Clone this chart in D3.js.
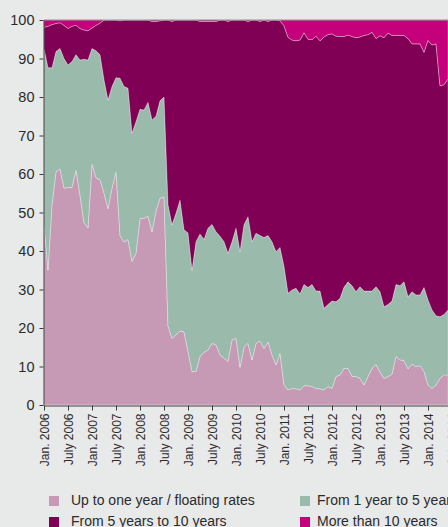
<!DOCTYPE html>
<html lang="en">
<head>
    <title>Interest rate fixation shares</title>
    <meta charset="utf-8">
    <style>
        body { margin: 0; background: #e8e9e9; overflow: hidden; }
        svg { display: block; background: #e8e9e9; }
        .axis text { font-family: "Liberation Sans", Arial, sans-serif; fill: #2b2b2b; }
        .axis path, .axis line { stroke: #3a3a3a; }
        .legend text { font-family: "Liberation Sans", Arial, sans-serif; font-size: 14px; fill: #2b2b2b; }
    </style>
    <script src="https://d3js.org/d3.v7.min.js"></script>
</head>
<body>
<svg id="chart" width="448" height="527"></svg>
<script>
    // monthly shares (%), Jan. 2006 .. June 2014
    const upToOneYear = [47, 35, 52, 60.6, 61.3, 56.3, 56.5, 56.5, 61, 54.5, 47.3, 46,
        62.5, 59, 58.5, 55, 51, 56.3, 60.5, 44, 42.3, 43, 37.3, 39.4,
        48.4, 48.5, 49, 45, 50.4, 53.7, 54, 20.5, 17.3, 18.2, 19.2, 19,
        13.9, 8.7, 8.7, 12.6, 13.7, 14.3, 16, 15.6, 13, 12.2, 11.3, 16.9,
        17.3, 9.8, 15, 16, 11.7, 16, 16.6, 14.7, 16.4, 13, 10.4, 13.4,
        5.2, 3.9, 4.3, 4.2, 3.9, 5, 5, 4.8, 4.3, 4.2, 3.9, 4.8,
        4.3, 7.4, 7.8, 9.5, 9.5, 7.4, 7.4, 6.9, 5.2, 7.4, 9.5, 10.5,
        8.5, 6.9, 7.4, 8, 12.6, 11.7, 11.5, 9.4, 10.6, 10, 10.2, 8.7,
        5.2, 4.3, 5.2, 6.9, 7.8, 7.8];
    const oneToFiveYears = [45.6, 52.6, 35.6, 31.2, 31.3, 33.7, 31.8, 32.7, 30, 35.1, 42.5, 43.6,
        30.1, 33, 32.5, 29.4, 28.2, 26.4, 24.5, 40.9, 40.4, 39.3, 33.3, 34.2,
        28.4, 28.1, 29.6, 29, 24.6, 25.3, 26, 31.5, 29.5, 31.6, 34, 26.5,
        30.8, 26.3, 33.7, 31.8, 29.3, 31.6, 30.9, 29.4, 30.8, 30.2, 28.1, 25.5,
        28.6, 30, 31.8, 32.9, 30.7, 28.6, 27.4, 28.8, 27.6, 29.4, 29.4, 27.5,
        30.8, 25.1, 25.6, 26.1, 24.9, 26.3, 25.5, 26.5, 25.3, 25.4, 21.2, 21.3,
        22.7, 19.4, 19.9, 21.1, 22.5, 23.6, 22, 23.8, 24.4, 22.2, 20.1, 20.2,
        20.9, 18.6, 18.7, 19, 18.7, 19.3, 20.5, 18.7, 18.8, 18.6, 18.4, 21.8,
        22.1, 20.4, 18, 16, 15.7, 16.9];
    const fiveToTenYears = [5.5, 10.8, 11.2, 7.3, 6.7, 8.6, 9.5, 9.2, 7.6, 8.2, 7.6, 7.6,
        5.3, 6.6, 8.2, 15.6, 20.8, 17.3, 15, 14.9, 17.3, 17.7, 29.4, 26.4,
        23.2, 23.4, 21.4, 25.6, 24.6, 20.8, 20, 48, 52.8, 50.2, 46.8, 54.5,
        55.3, 65, 57.6, 55.2, 56.6, 53.7, 52.7, 54.6, 56.2, 57.6, 60.2, 57.6,
        54.1, 60.2, 53.2, 50.7, 57.6, 55.4, 55.6, 56.5, 55.6, 57.6, 60.2, 58.9,
        62.5, 66.5, 64.9, 64.3, 66, 65.4, 64.5, 63.6, 66.2, 65, 70.5, 70.1,
        69.4, 69, 68, 65.1, 64.1, 64.7, 66, 64.9, 66.4, 66.6, 67.2, 64.5,
        66.5, 69.9, 70.5, 69, 64.7, 65, 64, 67.1, 64.4, 65.2, 65.2, 61.1,
        67.4, 68.8, 70.6, 60, 59.7, 60];
    const moreThanTenYears = [1.9, 1.6, 1.2, 0.9, 0.7, 1.4, 2.2, 1.6, 1.4, 2.2, 2.6, 2.8,
        2.1, 1.4, 0.8, 0, 0, 0, 0, 0.2, 0, 0, 0, 0,
        0, 0, 0, 0.4, 0.4, 0.2, 0, 0, 0.4, 0, 0, 0,
        0, 0, 0, 0.4, 0.4, 0.4, 0.4, 0.4, 0, 0, 0.4, 0,
        0, 0, 0, 0.4, 0, 0, 0.4, 0, 0.4, 0, 0, 0.2,
        1.5, 4.5, 5.2, 5.4, 5.2, 3.3, 5, 5.1, 4.2, 5.4, 4.4, 3.8,
        3.6, 4.2, 4.3, 4.3, 3.9, 4.3, 4.6, 4.4, 4, 3.8, 3.2, 4.8,
        4.1, 4.6, 3.4, 4, 4, 4, 4, 4.8, 6.2, 6.2, 6.2, 8.4,
        5.3, 6.5, 6.2, 17.1, 16.8, 15.3];

    const seriesNames = ["Up to one year / floating rates", "From 1 year to 5 years",
        "From 5 years to 10 years", "More than 10 years"];
    const seriesColors = ["#c699b5", "#9abaab", "#7f0054", "#c4007b"];
    const tickLabels = ["Jan. 2006", "July 2006", "Jan. 2007", "July 2007", "Jan. 2008", "July 2008",
        "Jan. 2009", "July 2009", "Jan. 2010", "July 2010", "Jan. 2011", "July 2011",
        "Jan. 2012", "July 2012", "Jan. 2013", "July 2013", "Jan. 2014", "July 2014"];
    const yTicks = [0, 10, 20, 30, 40, 50, 60, 70, 80, 90, 100];

    const svg = d3.select("#chart");
    const plotLeft = 44, plotTop = 20, plotBottom = 405;

    const allSeries = [upToOneYear, oneToFiveYears, fiveToTenYears, moreThanTenYears];
    const rows = upToOneYear.map((v, i) => {
        const row = { month: i };
        seriesNames.forEach((name, k) => row[name] = allSeries[k][i]);
        return row;
    });

    const x = d3.scaleLinear().domain([0, 102]).range([plotLeft, plotLeft + 102 * 4]);
    const y = d3.scaleLinear().domain([0, 100]).range([plotBottom, plotTop]);

    const stacked = d3.stack().keys(seriesNames)(rows);

    const area = d3.area()
        .x(d => x(d.data.month))
        .y0(d => y(d[0]))
        .y1(d => y(d[1]));

    svg.append("g")
        .selectAll("path")
        .data(stacked)
        .join("path")
        .attr("d", area)
        .attr("fill", (d, i) => seriesColors[i])
        .attr("stroke", "rgba(255,255,255,0.45)")
        .attr("stroke-width", 0.7);

    // line along the 100 mark
    svg.append("line")
        .attr("x1", plotLeft)
        .attr("x2", 448)
        .attr("y1", y(100))
        .attr("y2", y(100))
        .attr("stroke", "#8c8c8c")
        .attr("stroke-width", 1);

    const yAxis = svg.append("g")
        .attr("class", "axis")
        .attr("transform", `translate(${plotLeft - 0.5},0)`)
        .call(d3.axisLeft(y).tickValues(yTicks).tickSize(4).tickPadding(5).tickSizeOuter(0));
    yAxis.selectAll("text").style("font-size", "14.5px");

    const xAxis = svg.append("g")
        .attr("class", "axis")
        .attr("transform", `translate(0,${plotBottom + 0.5})`)
        .call(d3.axisBottom(x)
            .tickValues(tickLabels.map((t, i) => i * 6))
            .tickFormat((d, i) => tickLabels[i])
            .tickSize(5)
            .tickSizeOuter(0));
    xAxis.selectAll("text")
        .style("font-size", "12px")
        .style("text-anchor", "end")
        .attr("transform", "rotate(-90)")
        .attr("x", -8)
        .attr("y", 0)
        .attr("dy", "0.35em");

    const legendMarkX = [49, 300];
    const legendTextX = [71, 317];
    const legendRowY = [496, 517];

    const legend = svg.append("g").attr("class", "legend");
    seriesNames.forEach((name, i) => {
        const col = i % 2, row = Math.floor(i / 2);
        legend.append("rect")
            .attr("x", legendMarkX[col])
            .attr("y", legendRowY[row])
            .attr("width", 10)
            .attr("height", 10)
            .attr("fill", seriesColors[i]);
        legend.append("text")
            .attr("x", legendTextX[col])
            .attr("y", legendRowY[row] + 9)
            .text(name);
    });
</script>
</body>
</html>
